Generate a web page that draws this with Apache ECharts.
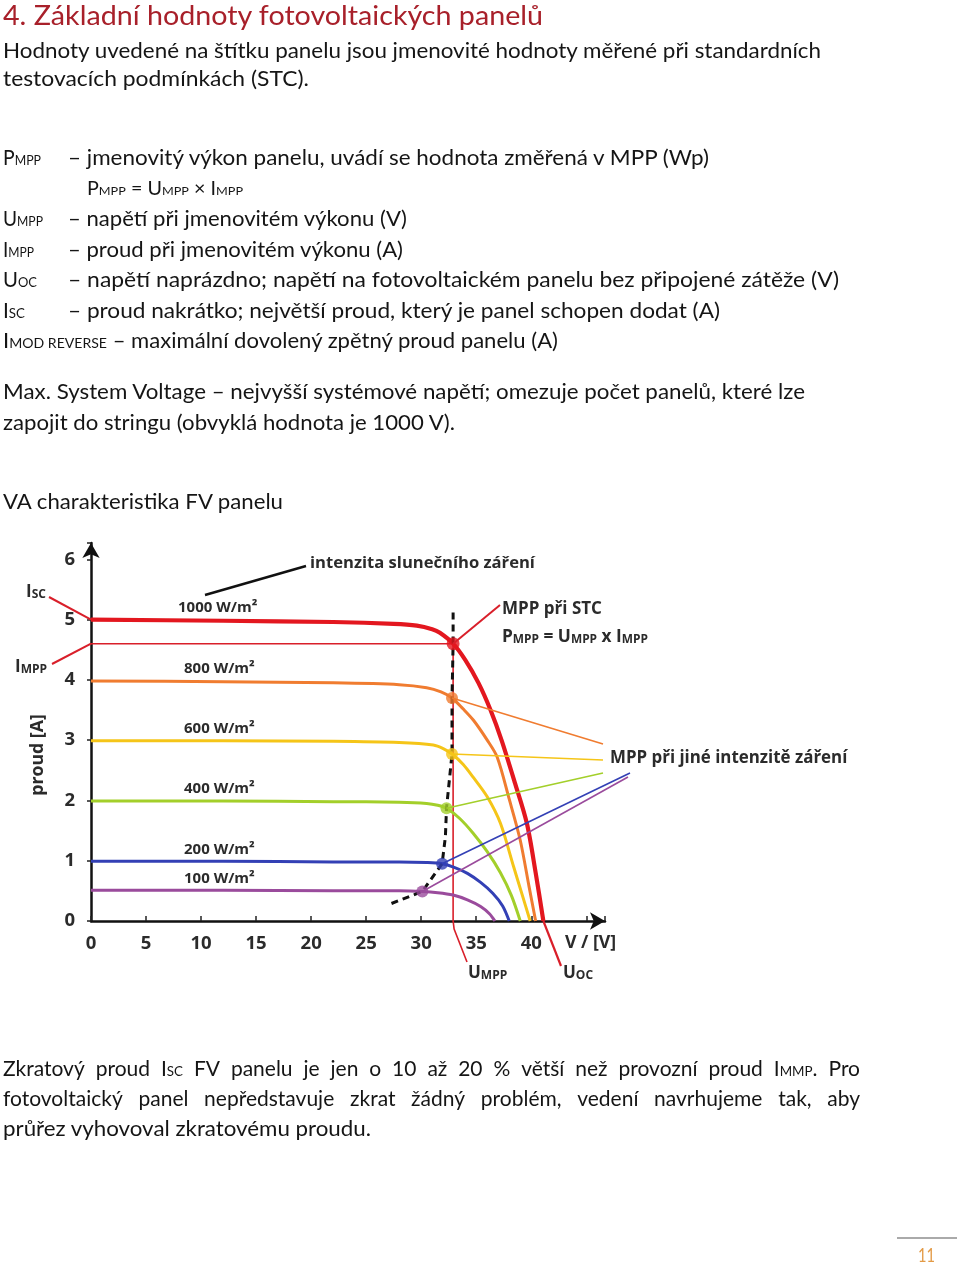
<!DOCTYPE html>
<html><head><meta charset="utf-8">
<script src="https://cdn.jsdelivr.net/npm/echarts@6/dist/echarts.min.js"></script>
<style>
html,body{margin:0;padding:0;background:#fff;}
#page{position:relative;width:960px;height:1268px;overflow:hidden;background:#fff;}
#chart{position:absolute;left:0;top:0;width:960px;height:1268px;}
#txt{position:absolute;left:0;top:0;width:960px;height:1268px;pointer-events:none;}
</style></head>
<body><div id="page"><div id="chart"></div><svg id="txt" xmlns="http://www.w3.org/2000/svg" width="960" height="1268"></svg></div>
<script>
// ---------- chart data (V in volts, I in amperes) ----------
const irradianceLabels = ['1000 W/m²', '800 W/m²', '600 W/m²', '400 W/m²', '200 W/m²', '100 W/m²'];
const curveColors = ['#e3171f', '#f07c30', '#f5c518', '#a3cf2a', '#3340b5', '#9a4b9c'];

const v1000 = [0, 12, 22, 27.5, 29.6, 31.0, 31.7, 32.9, 34.0, 35.2, 36.3, 37.3, 38.5, 39.6, 40.4, 41.1];
const i1000 = [5.00, 4.98, 4.96, 4.93, 4.90, 4.84, 4.78, 4.60, 4.33, 3.95, 3.50, 3.00, 2.30, 1.62, 0.80, 0];
const v800 = [0, 12, 22, 28, 30.5, 31.8, 32.8, 33.8, 34.75, 36.0, 36.9, 38.0, 39.0, 39.8, 40.4];
const i800 = [3.98, 3.97, 3.95, 3.92, 3.87, 3.80, 3.70, 3.52, 3.33, 3.00, 2.72, 2.02, 1.34, 0.57, 0];
const v600 = [0, 12, 22, 28, 31.1, 32.0, 32.8, 33.8, 34.7, 36.0, 37.2, 38.4, 39.2, 39.9];
const i600 = [2.99, 2.99, 2.98, 2.96, 2.92, 2.86, 2.77, 2.60, 2.39, 2.06, 1.62, 0.90, 0.42, 0];
const v400 = [0, 12, 22, 28, 30.5, 31.5, 32.3, 33.5, 34.7, 36.0, 37.2, 38.2, 39.0];
const i400 = [1.99, 1.99, 1.98, 1.97, 1.95, 1.92, 1.87, 1.70, 1.46, 1.15, 0.80, 0.42, 0];
const v200 = [0, 12, 22, 28, 30.5, 31.9, 33.0, 34.2, 35.4, 36.5, 37.4, 38.0];
const i200 = [0.99, 0.99, 0.98, 0.98, 0.97, 0.95, 0.89, 0.79, 0.64, 0.46, 0.25, 0];
const v100 = [0, 12, 22, 28, 30.1, 31.5, 32.9, 34.2, 35.4, 36.2, 36.7];
const i100 = [0.51, 0.51, 0.50, 0.50, 0.49, 0.47, 0.43, 0.35, 0.24, 0.12, 0];

const mppV = [32.9, 32.8, 32.8, 32.3, 31.9, 30.1];
const mppI = [4.60, 3.70, 2.77, 1.87, 0.95, 0.49];

const locusV = [27.3, 30.1, 31.9, 32.2, 32.3, 32.8, 32.8, 32.9, 32.9];
const locusI = [0.29, 0.49, 0.95, 1.40, 1.87, 2.77, 3.70, 4.60, 5.13];

const xTickStep = 5, xLabelMax = 40, yTickStep = 1, yLabelMax = 6;

// ---------- document text ----------
const docLines = [
  {x:3, y:25, s:26, w:540, c:'#a8202a', t:'4. Základní hodnoty fotovoltaických panelů'},
  {x:3, y:58, s:21, w:818, t:'Hodnoty uvedené na štítku panelu jsou jmenovité hodnoty měřené při standardních'},
  {x:3, y:86, s:21, w:306, t:'testovacích podmínkách (STC).'},
  {x:3, y:165, s:21, w:38, t:'P[MPP]'},
  {x:68, y:165, s:21, w:641, t:'– jmenovitý výkon panelu, uvádí se hodnota změřená v MPP (Wp)'},
  {x:87, y:195, s:19, w:156, t:'P[MPP] = U[MPP] × I[MPP]'},
  {x:3, y:226, s:21, w:40, t:'U[MPP]'},
  {x:68, y:226, s:21, w:339, t:'– napětí při jmenovitém výkonu (V)'},
  {x:3, y:257, s:21, w:31, t:'I[MPP]'},
  {x:68, y:257, s:21, w:335, t:'– proud při jmenovitém výkonu (A)'},
  {x:3, y:287, s:21, w:34, t:'U[OC]'},
  {x:68, y:287, s:21, w:771, t:'– napětí naprázdno; napětí na fotovoltaickém panelu bez připojené zátěže (V)'},
  {x:3, y:318, s:21, w:22, t:'I[SC]'},
  {x:68, y:318, s:21, w:652, t:'– proud nakrátko; největší proud, který je panel schopen dodat (A)'},
  {x:3, y:348, s:21, w:555, t:'I[MOD REVERSE] – maximální dovolený zpětný proud panelu (A)'},
  {x:3, y:399, s:21, w:802, t:'Max. System Voltage – nejvyšší systémové napětí; omezuje počet panelů, které lze'},
  {x:3, y:430, s:21, w:452, t:'zapojit do stringu (obvyklá hodnota je 1000 V).'},
  {x:3, y:509, s:21, w:280, t:'VA charakteristika FV panelu'},
  {x:3, y:1076, s:21, w:857, j:true, t:'Zkratový proud I[SC] FV panelu je jen o 10 až 20 % větší než provozní proud I[MMP]. Pro'},
  {x:3, y:1106, s:21, w:857, j:true, t:'fotovoltaický panel nepředstavuje zkrat žádný problém, vedení navrhujeme tak, aby'},
  {x:3, y:1136, s:21, w:368, t:'průřez vyhovoval zkratovému proudu.'},
  {x:918, y:1262, s:20, w:17, c:'#e39a45', t:'11'}
];

const NS = 'http://www.w3.org/2000/svg';
const svg = document.getElementById('txt');
function parts(str){
  const out = []; const re = /\[([^\]]*)\]/g; let last = 0, m;
  while ((m = re.exec(str))) { if (m.index > last) out.push({t:str.slice(last, m.index), sub:false}); out.push({t:m[1], sub:true}); last = re.lastIndex; }
  if (last < str.length) out.push({t:str.slice(last), sub:false});
  return out;
}
function mkText(x, y, size, color, str){
  const el = document.createElementNS(NS, 'text');
  el.setAttribute('x', x); el.setAttribute('y', y);
  el.setAttribute('font-family', 'Lato, "DejaVu Sans", sans-serif');
  el.setAttribute('font-size', size); el.setAttribute('fill', color);
  el.setAttribute('xml:space', 'preserve');
  parts(str).forEach(p => {
    const ts = document.createElementNS(NS, 'tspan');
    ts.textContent = p.t;
    if (p.sub) ts.setAttribute('font-size', (size * 0.64).toFixed(1));
    el.appendChild(ts);
  });
  svg.appendChild(el);
  return el;
}
docLines.forEach(L => {
  const col = L.c || '#151515';
  if (!L.j) {
    const el = mkText(L.x, L.y, L.s, col, L.t);
    el.setAttribute('textLength', L.w);
    el.setAttribute('lengthAdjust', 'spacingAndGlyphs');
  } else {
    const words = L.t.split(' ');
    const els = words.map(w => mkText(0, L.y, L.s, col, w));
    const widths = els.map(e => e.getComputedTextLength());
    const sum = widths.reduce((a, b) => a + b, 0);
    const gap = (L.w - sum) / (words.length - 1);
    let cx = L.x;
    els.forEach((e, k) => { e.setAttribute('x', cx.toFixed(1)); cx += widths[k] + gap; });
  }
});
const rule = document.createElementNS(NS, 'line');
rule.setAttribute('x1', 897); rule.setAttribute('x2', 957); rule.setAttribute('y1', 1238); rule.setAttribute('y2', 1238);
rule.setAttribute('stroke', '#aaaaaa'); rule.setAttribute('stroke-width', 2);
svg.appendChild(rule);

// ---------- chart ----------
const chart = echarts.init(document.getElementById('chart'), null, {renderer: 'canvas'});
const curves = [[v1000, i1000], [v800, i800], [v600, i600], [v400, i400], [v200, i200], [v100, i100]];
const FONT = '"Open Sans", "DejaVu Sans", sans-serif';
const LBL = '#2b2b2b';
const RED = '#d91f2a';

const series = [];
series.push({type:'line', data:[[0, mppI[0]], [mppV[0], mppI[0]]], showSymbol:false, lineStyle:{color:RED, width:1.6}, z:2});
series.push({type:'line', data:[[mppV[0], mppI[0]], [mppV[0], 0]], showSymbol:false, lineStyle:{color:RED, width:1.6}, z:2});
curves.forEach((c, k) => {
  series.push({
    type:'line', name: irradianceLabels[k],
    data: c[0].map((v, i) => [v, c[1][i]]),
    smooth: 0.3, showSymbol:false,
    lineStyle:{color: curveColors[k], width: k === 0 ? 4.2 : 3},
    z: 10 - k
  });
});
series.push({type:'line', data: locusV.map((v, i) => [v, locusI[i]]), showSymbol:false,
  lineStyle:{color:'#111', width:3, type:[7, 5]}, z:12});
series.push({type:'scatter', data: mppV.map((v, k) => ({value:[v, mppI[k]], itemStyle:{color: curveColors[k]}})),
  symbolSize: (val, p) => p.dataIndex === 0 ? 13 : 12, z:14});

chart.setOption({
  animation:false,
  backgroundColor:'transparent',
  grid:{left:91, top:543, width:514, height:378},
  xAxis:{type:'value', min:0, max:46.7, interval:xTickStep,
    axisLine:{lineStyle:{color:'#111', width:2.5}, symbol:['none', 'arrow'], symbolSize:[13, 15]},
    axisTick:{inside:true, length:5, lineStyle:{color:'#222', width:1.5}},
    splitLine:{show:false},
    axisLabel:{margin:13, color:LBL, fontFamily:FONT, fontWeight:'bold', fontSize:18.5,
      formatter: v => (v <= xLabelMax && Math.abs(v / xTickStep - Math.round(v / xTickStep)) < 1e-6) ? String(Math.round(v)) : ''}
  },
  yAxis:{type:'value', min:0, max:6.27, interval:yTickStep,
    axisLine:{lineStyle:{color:'#111', width:2.5}, symbol:['none', 'arrow'], symbolSize:[13, 15]},
    axisTick:{inside:false, length:4, lineStyle:{color:'#222', width:1.5}},
    splitLine:{show:false},
    axisLabel:{margin:16, color:LBL, fontFamily:FONT, fontWeight:'bold', fontSize:18.5,
      formatter: v => (v <= yLabelMax && Math.abs(v - Math.round(v)) < 1e-6) ? String(Math.round(v)) : ''}
  },
  series: series
});

const px = (v, i) => chart.convertToPixel({gridIndex:0}, [v, i]);
function line(pts, color, width){ return {type:'polyline', shape:{points:pts}, style:{stroke:color, lineWidth:width, fill:null}, z:20, silent:true}; }
function txt(x, y, text, rich, size){
  return {type:'text', x:x, y:y, z:22, silent:true,
    style:{text:text, rich:rich, align:'left', verticalAlign:'middle', fill:LBL,
      fontFamily:FONT, fontWeight:'bold', fontSize:size || 17}};
}
function subRich(big, small){
  return {a:{fontSize:big, lineHeight:big + 3, fontWeight:'bold', fontFamily:FONT, fill:LBL, verticalAlign:'bottom'},
          b:{fontSize:small, lineHeight:small + 4, fontWeight:'bold', fontFamily:FONT, fill:LBL, verticalAlign:'bottom'}};
}
const g = [];
const pIsc = px(0, i1000[0]);
const pImpp = px(0, mppI[0]);
const pMpp = px(mppV[0], mppI[0]);
const pUmpp = px(mppV[0], 0);
const pUoc = px(v1000[v1000.length - 1], 0);
g.push(line([[49, 597], pIsc], RED, 2));
g.push(line([[52, 664], pImpp], RED, 2));
g.push(line([pMpp, [500, 605]], RED, 2));
g.push(line([[205, 595], [306, 566]], '#111', 2.5));
g.push(line([pUmpp, [pUmpp[0] + 1, 929], [467, 962]], RED, 1.6));
g.push(line([pUoc, [561, 966]], RED, 2.2));
const ends = [null, [603, 744], [603, 760], [603, 773], [630, 773], [628, 777]];
for (let k = 1; k < mppV.length; k++) {
  g.push(line([px(mppV[k], mppI[k]), ends[k]], curveColors[k], 1.6));
}
// texts
g.push(txt(26, 591, '{a|I}{b|SC}', subRich(17, 12)));
g.push(txt(15, 666, '{a|I}{b|MPP}', subRich(17, 12)));
g.push({type:'text', x:38, y:755, rotation:Math.PI / 2, z:22, silent:true,
  style:{text:'proud [A]', align:'center', verticalAlign:'middle', fill:LBL, fontFamily:FONT, fontWeight:'bold', fontSize:17.7}});
g.push(txt(310, 563, 'intenzita slunečního záření', null, 16.6));
irradianceLabels.forEach((lab, k) => {
  const c = curves[k];
  const yy = px(0, c[1][0])[1] - 12;
  g.push(txt(k === 0 ? 178 : 184, yy, lab, null, 15));
});
g.push(txt(502, 609, 'MPP při STC', null, 17));
g.push(txt(502, 635, '{a|P}{b|MPP}{a| = U}{b|MPP}{a| x I}{b|MPP}', subRich(17.3, 11.9)));
g.push(txt(610, 758, 'MPP při jiné intenzitě záření', null, 16.9));
g.push(txt(565, 943, 'V / [V]', null, 17.7));
g.push(txt(468, 972, '{a|U}{b|MPP}', subRich(17, 12)));
g.push(txt(563, 972, '{a|U}{b|OC}', subRich(17, 12)));
chart.setOption({graphic: g});
</script></body></html>
